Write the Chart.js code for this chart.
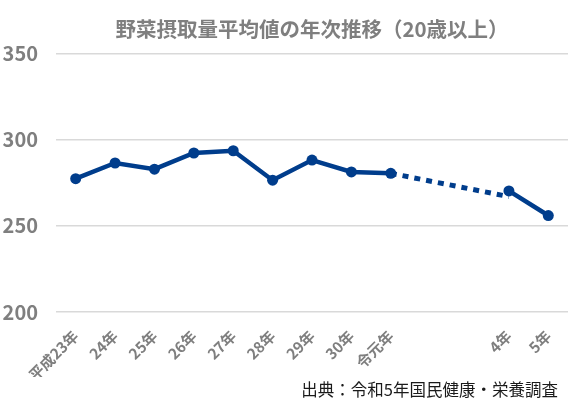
<!DOCTYPE html>
<html>
<head>
<meta charset="utf-8">
<script src="https://cdn.jsdelivr.net/npm/chart.js@4/dist/chart.umd.min.js"></script>
<style>
  html, body { margin: 0; padding: 0; background: #fff; }
  #wrap { width: 578px; height: 413px; }
</style>
</head>
<body>
<div id="wrap"><canvas id="myChart"></canvas></div>
<script>
// 年次（令和2年・3年は調査なし）
const years = ['平成23年', '24年', '25年', '26年', '27年', '28年', '29年', '30年', '令元年', '', '', '4年', '5年'];
// 野菜摂取量平均値 (g)
const intake = [277.4, 286.5, 282.9, 292.3, 293.6, 276.5, 288.2, 281.3, 280.5, null, null, 270.3, 256.0];
// 令元年から4年への点線
const bridge = [null, null, null, null, null, null, null, null, 280.5, null, null, 267.0, null];
const yTicks = [200, 250, 300, 350];
const sourceText = '出典：令和5年国民健康・栄養調査';

const BLUE = '#003d8c';
const GRAY = '#7f7f7f';
const FONT = "'Noto Sans CJK JP', 'Noto Sans', sans-serif";

// 出典を右下に描く
const sourceNote = {
  id: 'sourceNote',
  afterDraw(chart) {
    const c = chart.ctx;
    c.save();
    c.font = `normal 16.5px ${FONT}`;
    c.fillStyle = '#1a1a1a';
    c.textAlign = 'right';
    c.textBaseline = 'middle';
    c.fillText(sourceText, chart.width - 20, 390);
    c.restore();
  }
};

const ctx = document.getElementById('myChart').getContext('2d');
new Chart(ctx, {
  type: 'line',
  data: {
    labels: years,
    datasets: [
      {
        label: '野菜摂取量',
        data: intake,
        borderColor: BLUE,
        backgroundColor: BLUE,
        borderWidth: 4.5,
        pointRadius: 5.5,
        pointBackgroundColor: BLUE,
        pointBorderColor: BLUE,
        pointBorderWidth: 0,
        spanGaps: false,
        tension: 0,
        order: 1
      },
      {
        label: '点線',
        data: bridge,
        borderColor: BLUE,
        borderWidth: 5,
        borderDash: [6, 6],
        borderCapStyle: 'butt',
        pointRadius: 0,
        spanGaps: true,
        tension: 0,
        order: 2
      }
    ]
  },
  plugins: [sourceNote],
  options: {
    responsive: true,
    maintainAspectRatio: false,
    animation: false,
    layout: { padding: { left: 3, right: 10, top: 0, bottom: 36 } },
    plugins: {
      legend: { display: false },
      tooltip: { enabled: false },
      title: {
        display: true,
        text: '野菜摂取量平均値の年次推移（20歳以上）',
        color: GRAY,
        fullSize: false,
        font: { family: FONT, size: 20.5, weight: 'bold' },
        padding: { top: 17, bottom: 12 }
      }
    },
    scales: {
      x: {
        offset: true,
        grid: { display: false },
        border: { display: false },
        ticks: {
          color: GRAY,
          autoSkip: false,
          minRotation: 45,
          maxRotation: 45,
          padding: 7,
          font: { family: FONT, size: 15, weight: 'bold' }
        },
        afterFit: (scale) => {
          scale.height = 65;
          scale.paddingLeft = 0;
          scale.paddingRight = 0;
        }
      },
      y: {
        min: 200,
        max: 350,
        grid: { color: '#d9d9d9', lineWidth: 1.5, drawTicks: false },
        border: { display: false },
        afterBuildTicks: (scale) => { scale.ticks = yTicks.map(v => ({ value: v })); },
        afterFit: (scale) => { scale.width = 53; },
        ticks: {
          color: GRAY,
          padding: 18,
          font: { family: FONT, size: 20, weight: 'bold' }
        }
      }
    }
  }
});
</script>
</body>
</html>
